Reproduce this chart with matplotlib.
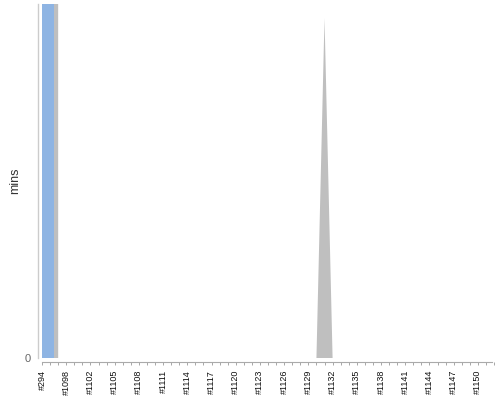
import numpy as np
import matplotlib
matplotlib.use("Agg")
import matplotlib.pyplot as plt

plt.rcParams["font.family"] = ["Liberation Sans", "DejaVu Sans"]

# builds on the x axis
builds = ["#294", "#1096", "#1097", "#1098", "#1100", "#1101"] + \
         ["#{}".format(n) for n in range(1102, 1153)]
# duration series (mins); the first build runs far off the top of the chart
blue_mins = [100000] + [0] * (len(builds) - 1)
gray_mins = [100000, 100000] + [0] * 32 + [0, 96, 0] + [0] * (len(builds) - 37)

blue = "#8eb4e3"
gray = "#bfbfbf"

idx = np.arange(len(builds))

fig = plt.figure(figsize=(5, 4), dpi=100)
ax = fig.add_axes([38/500, 42/400, 456/500, 354/400])

ax.fill_between(idx, 0, gray_mins, color=gray, lw=0)
ax.bar(idx, blue_mins, width=1.45, align="edge", color=blue, lw=0)

ax.set_xlim(-0.5, 56)
ax.set_ylim(0, 100)

for s in ["top", "right"]:
    ax.spines[s].set_visible(False)
ax.spines["left"].set_color("#cccccc")
ax.spines["left"].set_linewidth(1)
ax.spines["bottom"].set_color("#aaaaaa")
ax.spines["bottom"].set_linewidth(0.8)
ax.spines["bottom"].set_position(("outward", 3))
ax.spines["bottom"].set_bounds(0, 55.75)

ax.set_xticks(idx[::3])
ax.set_xticklabels(builds[::3], rotation=90, fontsize=6.5, color="#111111")
ax.set_xticks(idx, minor=True)
ax.tick_params(axis="x", which="both", length=2.5, width=0.6,
               color="#999999", pad=3)

ax.set_yticks([0])
ax.tick_params(axis="y", length=0, pad=5, labelsize=8, labelcolor="#666666")
ax.set_ylabel("mins", fontsize=9, color="#333333", labelpad=3)

fig.savefig("out.png", dpi=100)
